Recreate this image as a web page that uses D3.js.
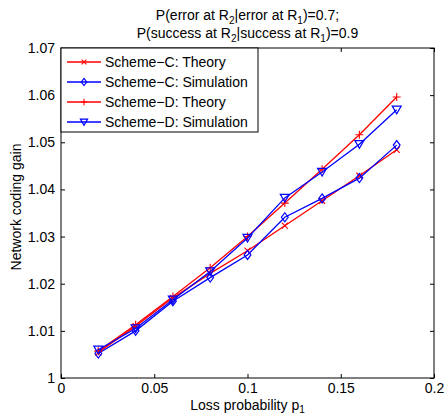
<!DOCTYPE html>
<html><head><meta charset="utf-8">
<script src="https://cdn.jsdelivr.net/npm/d3@7"></script>
<style>body{margin:0;background:#fff}svg{display:block}text{font-family:"Liberation Sans",Arial,sans-serif}</style>
</head><body>
<script>
const xValues = [0.02,0.04,0.06,0.08,0.10,0.12,0.14,0.16,0.18];
const schemeCTheory = [1.0054,1.0110,1.0170,1.0222,1.0270,1.0323,1.0376,1.0429,1.0484];
const schemeCSim    = [1.0052,1.0100,1.0163,1.0213,1.0261,1.0341,1.0381,1.0424,1.0494];
const schemeDTheory = [1.0057,1.0113,1.0173,1.0234,1.0300,1.0371,1.0443,1.0516,1.0596];
const schemeDSim    = [1.0060,1.0105,1.0166,1.0226,1.0297,1.0382,1.0437,1.0496,1.0569];
const xTicks = [0,0.05,0.1,0.15,0.2];
const xTickLabels = ["0","0.05","0.1","0.15","0.2"];
const yTicks = [1,1.01,1.02,1.03,1.04,1.05,1.06,1.07];
const yTickLabels = ["1","1.01","1.02","1.03","1.04","1.05","1.06","1.07"];
const seriesNames = ["Scheme\u2212C: Theory","Scheme\u2212C: Simulation","Scheme\u2212D: Theory","Scheme\u2212D: Simulation"];

const W=444,H=417;
const L=61,R=434,T=48,B=378;
const svg=d3.select("body").append("svg").attr("width",W).attr("height",H);
const x=d3.scaleLinear().domain([0,0.2]).range([L,R]);
const y=d3.scaleLinear().domain([1,1.07]).range([B,T]);
const fs=14;

const tick=4;
const gx=svg.append("g").attr("transform",`translate(0,${B})`)
  .call(d3.axisBottom(x).tickValues(xTicks).tickFormat((d,i)=>xTickLabels[i]).tickSizeInner(-tick).tickSizeOuter(0).tickPadding(5));
const gxt=svg.append("g").attr("transform",`translate(0,${T})`)
  .call(d3.axisTop(x).tickValues(xTicks).tickFormat("").tickSizeInner(-tick).tickSizeOuter(0));
const gy=svg.append("g").attr("transform",`translate(${L},0)`)
  .call(d3.axisLeft(y).tickValues(yTicks).tickFormat((d,i)=>yTickLabels[i]).tickSizeInner(-tick).tickSizeOuter(0).tickPadding(6));
const gyr=svg.append("g").attr("transform",`translate(${R},0)`)
  .call(d3.axisRight(y).tickValues(yTicks).tickFormat("").tickSizeInner(-tick).tickSizeOuter(0));
[gx,gxt,gy,gyr].forEach(g=>{g.select(".domain").remove();g.selectAll("line").attr("stroke","#000");g.selectAll("text").attr("font-size",fs).attr("fill","#000").attr("font-family","Liberation Sans, Arial, sans-serif");});
svg.append("rect").attr("x",L).attr("y",T).attr("width",R-L).attr("height",B-T).attr("fill","none").attr("stroke","#000").attr("stroke-width",1);

function marker(g,type,cx,cy,color,k){
  k=k||1;
  if(type==="x"){
    const s=3*k;
    g.append("path").attr("d",`M${cx-s},${cy-s}L${cx+s},${cy+s}M${cx-s},${cy+s}L${cx+s},${cy-s}`).attr("stroke",color).attr("stroke-width",1.1).attr("fill","none");
  } else if(type==="+"){
    const s=4*k;
    g.append("path").attr("d",`M${cx-s},${cy}L${cx+s},${cy}M${cx},${cy-s}L${cx},${cy+s}`).attr("stroke",color).attr("stroke-width",1.1).attr("fill","none");
  } else if(type==="d"){
    const s=4.5*k;
    g.append("path").attr("d",`M${cx},${cy-s}L${cx+s*0.75},${cy}L${cx},${cy+s}L${cx-s*0.75},${cy}Z`).attr("stroke",color).attr("stroke-width",1.2).attr("fill","none");
  } else if(type==="v"){
    const s=4.5*k;
    g.append("path").attr("d",`M${cx-s},${cy-s*0.8}L${cx+s},${cy-s*0.8}L${cx},${cy+s*0.9}Z`).attr("stroke",color).attr("stroke-width",1.2).attr("fill","none");
  }
}
const series=[
  {vals:schemeCTheory,color:"#ff0000",m:"x"},
  {vals:schemeCSim,color:"#0000ff",m:"d"},
  {vals:schemeDTheory,color:"#ff0000",m:"+"},
  {vals:schemeDSim,color:"#0000ff",m:"v"}
];
const line=d3.line().x(d=>x(d[0])).y(d=>y(d[1]));
series.forEach(s=>{
  const pts=xValues.map((xv,i)=>[xv,s.vals[i]]);
  const g=svg.append("g");
  g.append("path").attr("d",line(pts)).attr("stroke",s.color).attr("stroke-width",1.3).attr("fill","none");
  pts.forEach(p=>marker(g,s.m,x(p[0]),y(p[1]),s.color));
});

const lg=svg.append("g");
lg.append("rect").attr("x",L).attr("y",T).attr("width",197).attr("height",84).attr("fill","#fff").attr("stroke","#000").attr("stroke-width",1);
series.forEach((s,i)=>{
  const yy=T+14+i*20;
  lg.append("line").attr("x1",67).attr("x2",101).attr("y1",yy).attr("y2",yy).attr("stroke",s.color).attr("stroke-width",1.3);
  marker(lg,s.m,84,yy,s.color,0.8);
  lg.append("text").attr("x",105).attr("y",yy+5).attr("font-size",fs).text(seriesNames[i]);
});

const sfs=fs*0.72;
const t1=svg.append("text").attr("x",(L+R)/2).attr("y",20).attr("text-anchor","middle").attr("font-size",fs);
t1.append("tspan").text("P(error at R");t1.append("tspan").attr("dy",4).attr("font-size",sfs).text("2");
t1.append("tspan").attr("dy",-4).text("|error at R");t1.append("tspan").attr("dy",4).attr("font-size",sfs).text("1");
t1.append("tspan").attr("dy",-4).text(")=0.7;");
const t2=svg.append("text").attr("x",(L+R)/2).attr("y",38).attr("text-anchor","middle").attr("font-size",fs);
t2.append("tspan").text("P(success at R");t2.append("tspan").attr("dy",4).attr("font-size",sfs).text("2");
t2.append("tspan").attr("dy",-4).text("|success at R");t2.append("tspan").attr("dy",4).attr("font-size",sfs).text("1");
t2.append("tspan").attr("dy",-4).text(")=0.9");

const xl=svg.append("text").attr("x",(L+R)/2).attr("y",410).attr("text-anchor","middle").attr("font-size",fs);
xl.append("tspan").text("Loss probability p");xl.append("tspan").attr("dy",3).attr("font-size",sfs).text("1");
svg.append("text").attr("transform","translate(21,207) rotate(-90)").attr("text-anchor","middle").attr("font-size",fs).text("Network coding gain");
</script>
</body></html>
